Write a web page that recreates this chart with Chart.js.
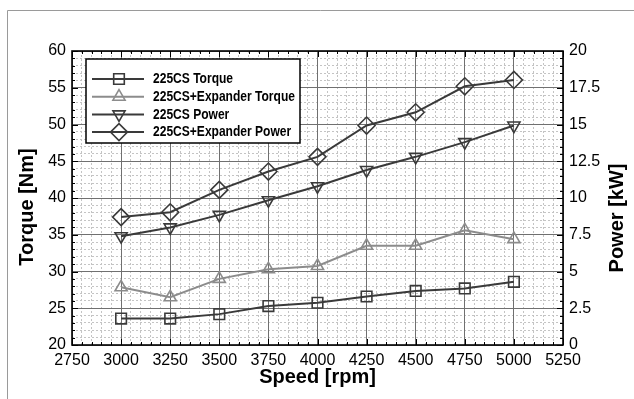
<!DOCTYPE html>
<html lang="en">
<head>
<meta charset="UTF-8">
<title>Torque and power vs speed</title>
<script src="https://cdn.jsdelivr.net/npm/chart.js"></script>
<style>
  html, body { margin: 0; padding: 0; background: #fff; }
  #wrap { width: 634px; height: 399px; }
</style>
</head>
<body>
<div id="wrap"><canvas id="chart" width="634" height="399"></canvas></div>
<script>
// engine speed, rpm
const speeds = [3000, 3250, 3500, 3750, 4000, 4250, 4500, 4750, 5000];
// torque, Nm (left axis)
const torque225 = [23.6, 23.6, 24.2, 25.3, 25.75, 26.6, 27.35, 27.7, 28.6];
const torqueExp = [27.85, 26.5, 29.0, 30.3, 30.75, 33.5, 33.5, 35.6, 34.4];
// power, kW (right axis)
const power225 = [7.4, 8.0, 8.85, 9.85, 10.8, 11.9, 12.8, 13.8, 14.93];
const powerExp = [8.7, 9.03, 10.55, 11.8, 12.8, 14.93, 15.83, 17.6, 18.03];

const seriesNames = ['225CS Torque', '225CS+Expander Torque', '225CS Power', '225CS+Expander Power'];

const dark = '#3a3a3a';
const light = '#8c8c8c';
const FONT = "'Liberation Sans', Arial, sans-serif";

function pts(ys) {
  return speeds.map((s, i) => ({x: s, y: ys[i]}));
}

function series(name, ys, axis, color, style, rot, r) {
  return {
    label: name,
    data: pts(ys),
    yAxisID: axis,
    borderColor: color,
    borderWidth: 2,
    pointStyle: style,
    pointRotation: rot,
    pointRadius: r,
    pointHoverRadius: r,
    pointBorderWidth: 1.6,
    pointBorderColor: color,
    pointBackgroundColor: 'rgba(0,0,0,0)',
    tension: 0,
    fill: false
  };
}

// small fallback in case helpers are not exposed
function marker(ctx, style, rot, r, x, y) {
  if (Chart.helpers && Chart.helpers.drawPoint) {
    Chart.helpers.drawPoint(ctx, {pointStyle: style, rotation: rot, radius: r, borderWidth: 1.6}, x, y);
    return;
  }
  ctx.beginPath();
  if (style === 'rect') {
    const s = r * Math.SQRT1_2;
    ctx.rect(x - s, y - s, 2 * s, 2 * s);
  } else if (style === 'rectRot') {
    ctx.moveTo(x, y - r); ctx.lineTo(x + r, y); ctx.lineTo(x, y + r); ctx.lineTo(x - r, y); ctx.closePath();
  } else {
    const d = rot ? -1 : 1;
    ctx.moveTo(x, y - d * r);
    ctx.lineTo(x + r * 0.866, y + d * r / 2);
    ctx.lineTo(x - r * 0.866, y + d * r / 2);
    ctx.closePath();
  }
  ctx.stroke();
}

const frame = {
  id: 'frame',
  beforeDraw(chart) {
    const ctx = chart.ctx;
    ctx.save();
    ctx.strokeStyle = '#9a9a9a';
    ctx.lineWidth = 1;
    ctx.beginPath();
    ctx.moveTo(7.5, 399);
    ctx.lineTo(7.5, 10.5);
    ctx.lineTo(634, 10.5);
    ctx.stroke();
    ctx.restore();
  }
};

const boxLegend = {
  id: 'boxLegend',
  afterDatasetsDraw(chart) {
    const ctx = chart.ctx;
    ctx.save();
    ctx.fillStyle = '#fff';
    ctx.fillRect(86, 59, 214, 84);
    ctx.strokeStyle = '#000';
    ctx.lineWidth = 1.5;
    ctx.strokeRect(86, 59, 214, 84);
    chart.data.datasets.forEach((ds, i) => {
      const y = 79 + i * 17.7;
      ctx.strokeStyle = ds.borderColor;
      ctx.lineWidth = 2;
      ctx.beginPath();
      ctx.moveTo(92, y);
      ctx.lineTo(144, y);
      ctx.stroke();
      ctx.fillStyle = 'rgba(0,0,0,0)';
      ctx.lineWidth = 1.6;
      marker(ctx, ds.pointStyle, ds.pointRotation, ds.pointRadius, 119, y);
      ctx.save();
      ctx.translate(153, y);
      ctx.scale(0.86, 1);
      ctx.fillStyle = '#000';
      ctx.font = 'bold 14px ' + FONT;
      ctx.textBaseline = 'middle';
      ctx.fillText(ds.label, 0, 0.5);
      ctx.restore();
    });
    ctx.restore();
  }
};

// plot border, inward ticks and the two vertical axis titles
const axesDeco = {
  id: 'axesDeco',
  afterDraw(chart) {
    const ctx = chart.ctx;
    const a = chart.chartArea;
    const s = chart.scales;
    ctx.save();
    ctx.strokeStyle = '#000';
    ctx.lineWidth = 1;
    ctx.beginPath();
    [[s.xMinor, 3], [s.x, 6]].forEach(([sc, len]) => {
      sc.ticks.forEach(t => {
        const px = Math.round(sc.getPixelForValue(t.value)) + 0.5;
        ctx.moveTo(px, a.bottom); ctx.lineTo(px, a.bottom - len);
        ctx.moveTo(px, a.top); ctx.lineTo(px, a.top + len);
      });
    });
    [[s.yMinor, 3], [s.y, 6]].forEach(([sc, len]) => {
      sc.ticks.forEach(t => {
        const py = Math.round(sc.getPixelForValue(t.value)) + 0.5;
        ctx.moveTo(a.left, py); ctx.lineTo(a.left + len, py);
        ctx.moveTo(a.right, py); ctx.lineTo(a.right - len, py);
      });
    });
    ctx.stroke();
    ctx.lineWidth = 1.6;
    ctx.strokeRect(a.left, a.top, a.right - a.left, a.bottom - a.top);

    ctx.fillStyle = '#000';
    ctx.font = 'bold 20px ' + FONT;
    ctx.textAlign = 'center';
    ctx.textBaseline = 'middle';
    ctx.save();
    ctx.translate(27, 207);
    ctx.rotate(-Math.PI / 2);
    ctx.fillText('Torque [Nm]', 0, 0);
    ctx.restore();
    ctx.translate(617, 218);
    ctx.rotate(-Math.PI / 2);
    ctx.fillText('Power [kW]', 0, 0);
    ctx.restore();
  }
};

const tickFont = {family: FONT, size: 16};
const titleFont = {family: FONT, size: 20, weight: 'bold'};

new Chart(document.getElementById('chart'), {
  type: 'line',
  data: {
    datasets: [
      series(seriesNames[0], torque225, 'y', dark, 'rect', 0, 7.5),
      series(seriesNames[1], torqueExp, 'y', light, 'triangle', 0, 7),
      series(seriesNames[2], power225, 'y2', dark, 'triangle', 180, 7),
      series(seriesNames[3], powerExp, 'y2', dark, 'rectRot', 0, 8.5)
    ]
  },
  options: {
    responsive: false,
    animation: false,
    devicePixelRatio: 1,
    layout: {padding: {top: 51, left: 0, right: 0, bottom: 0}},
    plugins: {legend: {display: false}, tooltip: {enabled: false}},
    scales: {
      xMinor: {
        type: 'linear', position: 'bottom', min: 2750, max: 5250, z: -1,
        ticks: {display: false, stepSize: 50, autoSkip: false},
        grid: {color: '#c4c4c4', lineWidth: 1, drawTicks: false},
        border: {display: false, dash: [2, 2]},
        afterFit(sc) { sc.height = 0; }
      },
      yMinor: {
        type: 'linear', position: 'left', min: 20, max: 60, z: -1,
        ticks: {display: false, stepSize: 1, autoSkip: false},
        grid: {color: '#c4c4c4', lineWidth: 1, drawTicks: false},
        border: {display: false, dash: [2, 2]},
        afterFit(sc) { sc.width = 0; }
      },
      x: {
        type: 'linear', position: 'bottom', min: 2750, max: 5250,
        ticks: {stepSize: 250, autoSkip: false, maxRotation: 0, color: '#000', font: tickFont, padding: 6,
          callback: v => String(v)},
        grid: {color: '#707070', lineWidth: 1, drawTicks: false},
        border: {display: false},
        title: {display: true, text: 'Speed [rpm]', color: '#000', font: titleFont, padding: {top: 0, bottom: 10}},
        afterFit(sc) { sc.height = 54; }
      },
      y: {
        type: 'linear', position: 'left', min: 20, max: 60,
        ticks: {stepSize: 5, autoSkip: false, color: '#000', font: tickFont, padding: 6},
        grid: {color: '#707070', lineWidth: 1, drawTicks: false},
        border: {display: false},
        afterFit(sc) { sc.width = 72; }
      },
      y2: {
        type: 'linear', position: 'right', min: 0, max: 20,
        ticks: {stepSize: 2.5, autoSkip: false, color: '#000', font: tickFont, padding: 6},
        grid: {drawOnChartArea: false, drawTicks: false},
        border: {display: false},
        afterFit(sc) { sc.width = 71; }
      }
    }
  },
  plugins: [frame, boxLegend, axesDeco]
});
</script>
</body>
</html>
